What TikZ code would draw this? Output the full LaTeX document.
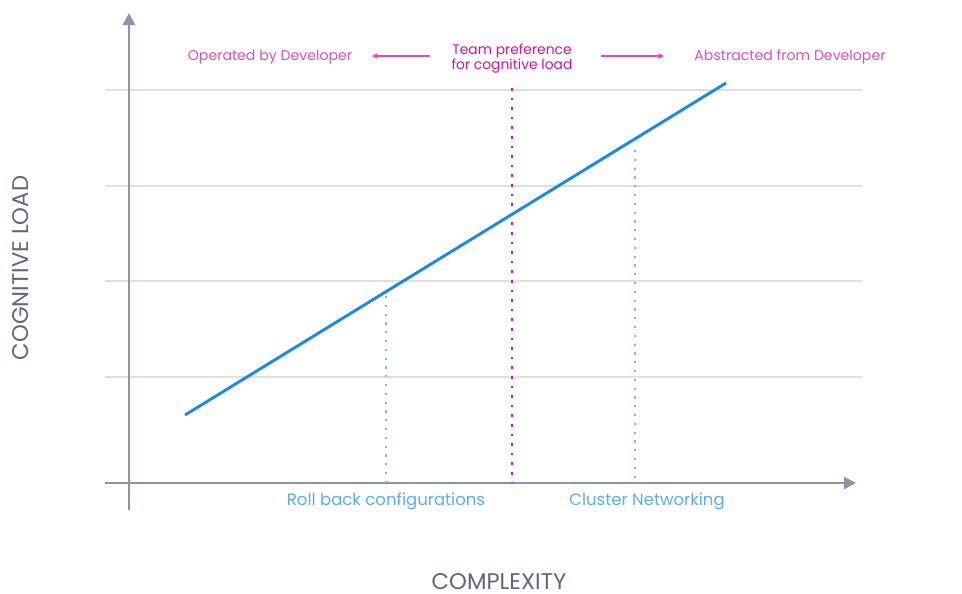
\documentclass[tikz,border=0pt]{standalone}
\usepackage{fontspec}
\setmainfont{Poppins}
\usetikzlibrary{arrows.meta}

\definecolor{axisgray}{HTML}{8C94AA}
\definecolor{gridgray}{HTML}{DEDEE4}
\definecolor{labelgray}{HTML}{5C6783}
\definecolor{linkblue}{HTML}{1E88E5}
\definecolor{dotblue}{HTML}{80B6EC}
\definecolor{tagblue}{HTML}{5EABF0}
\definecolor{sidepink}{HTML}{E04DB8}
\definecolor{teammag}{HTML}{D0129A}

\tikzset{
  axisline/.style={draw=axisgray, line width=2.2pt, -{Triangle[length=9pt,width=9pt]}},
  gridline/.style={draw=gridgray, line width=0.9pt},
  sidetext/.style={text=sidepink, font=\fontsize{10.6}{12}\selectfont},
  teamtext/.style={text=teammag, font=\fontsize{10.4}{11.3}\selectfont, align=center},
  tagtext/.style={text=tagblue, font=\fontsize{12.4}{14}\selectfont},
  axistext/.style={text=labelgray, inner sep=0pt, font=\fontsize{17}{19}\selectfont},
  sidearrow/.style={draw=sidepink, line width=0.8pt, -{Triangle[length=4pt,width=4pt]}},
}

\begin{document}
\begin{tikzpicture}[x=0.75pt, y=-0.75pt]
\useasboundingbox (0,0) rectangle (962,593);

% grid
\foreach \gy in {90,186,281,377}
  \draw [gridline] (105,\gy) -- (862,\gy);

% axes
\coordinate (ybot) at (129,510);
\coordinate (ytop) at (129,13);
\coordinate (xleft) at (105,483);
\coordinate (xright) at (856,483);
\draw [axisline] (ybot) -- (ytop);
\draw [axisline] (xleft) -- (xright);

% marker lines
\coordinate (rollTop) at (386,296);
\coordinate (rollBot) at (386,483);
\coordinate (clusTop) at (635,150);
\coordinate (clusBot) at (635,483);
\coordinate (teamTop) at (512,88);
\coordinate (teamBot) at (512,483);
\draw [dotblue, line width=1.6pt, dash pattern=on 1.6pt off 5pt] (rollTop) -- (rollBot);
\draw [dotblue, line width=1.6pt, dash pattern=on 1.6pt off 5pt] (clusTop) -- (clusBot);
\draw [teammag, line width=2pt, dash pattern=on 2pt off 5.2pt] (teamTop) -- (teamBot);

% load line
\coordinate (lineA) at (185,415);
\coordinate (lineB) at (726,83);
\draw [linkblue, line width=2.2pt] (lineA) -- (lineB);

% top labels
\node [sidetext] (operated) at (270,57) {Operated by Developer};
\node [teamtext] (team) at (512,59) {Team preference\\for cognitive load};
\node [sidetext] (abstracted) at (790,57) {Abstracted from Developer};
\coordinate (leftA) at (430,56);
\coordinate (leftB) at (372,56);
\coordinate (rightA) at (601,56);
\coordinate (rightB) at (664,56);
\draw [sidearrow] (leftA) -- (leftB);
\draw [sidearrow] (rightA) -- (rightB);

% bottom labels
\node [tagtext] (roll) at (386,501) {Roll back configurations};
\node [tagtext] (cluster) at (647,501) {Cluster Networking};

% axis titles
\node [axistext] (complexity) at (499,582) {COMPLEXITY};
\node [axistext, rotate=90] (cogload) at (21,268) {COGNITIVE LOAD};

\end{tikzpicture}
\end{document}
